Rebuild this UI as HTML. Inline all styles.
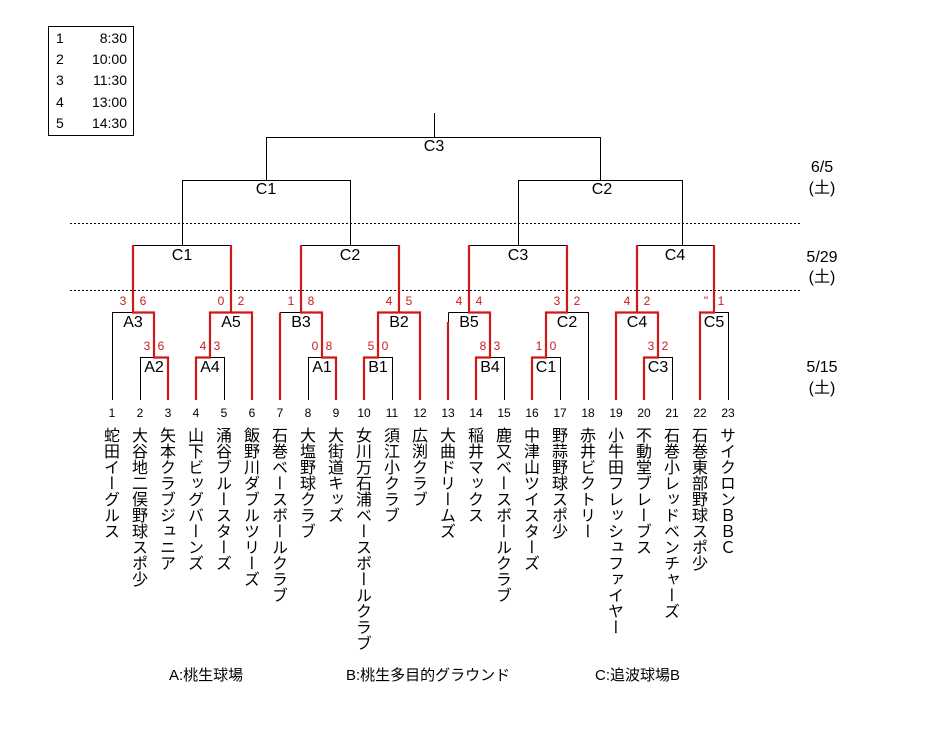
<!DOCTYPE html>
<html><head><meta charset="utf-8">
<style>
body{margin:0;background:#fff;}
#c{position:relative;width:947px;height:735px;overflow:hidden;background:#fff;font-family:"Liberation Sans","Noto Sans CJK JP",sans-serif;}
.t{position:absolute;font-size:16px;line-height:16px;color:#000;white-space:nowrap;transform:translateX(-50%);}
.s{position:absolute;font-size:12px;line-height:14px;color:#c81e1e;transform:translateX(-50%);}
.n{position:absolute;font-size:12px;line-height:14px;transform:translateX(-50%);top:406px;}
.v{position:absolute;top:427px;font-size:16px;line-height:16px;writing-mode:vertical-rl;transform:translateX(-50%);font-family:"Noto Sans CJK JP",sans-serif;}
.b{position:absolute;top:668px;font-size:15px;line-height:16px;}
</style></head><body><div id="c">
<svg width="947" height="735" style="position:absolute;left:0;top:0">
<rect x="48.5" y="26.5" width="85" height="109" fill="none" stroke="#000"/>
<g stroke="#000" stroke-dasharray="2,2"><line x1="70" y1="223.5" x2="800" y2="223.5"/><line x1="70" y1="290.5" x2="800" y2="290.5"/></g>
<g stroke="#000" fill="none" stroke-width="1">
<path d="M434.5 113V137.5M266.5 180V137.5H600.5V180M182.5 245V180.5H350.5V245M518.5 245V180.5H682.5V245"/>
<path d="M133.5 245.5H231.5M301.5 245.5H399.5M469.5 245.5H567.5M637.5 245.5H714.5"/>
<path d="M112.5 400V312.5H133M140.5 400V357.5H154"/>
<path d="M210 357.5H224.5V400"/>
<path d="M308.5 400V357.5H322M280 312.5H301"/>
<path d="M378 357.5H392.5V400"/>
<path d="M490 357.5H504.5V400M448.5 312.5H469M448.5 312.5V322"/>
<path d="M546 357.5H560.5V400M567 312.5H588.5V400"/>
<path d="M658 357.5H672.5V400"/>
<path d="M714 312.5H728.5V400"/>
</g>
<g stroke="#d01818" fill="none" stroke-width="2.2">
<path d="M168 400V357.5H154V312.5H133V245"/>
<path d="M196 400V357.5H210V312.5H252V400M231 312.5V245"/>
<path d="M336 400V357.5H322V312.5H301V245M280 400V312.5"/>
<path d="M364 400V357.5H378V312.5H420V400M399 312.5V245"/>
<path d="M476 400V357.5H490V312.5H469V245M448 400V322"/>
<path d="M532 400V357.5H546V312.5H567V245"/>
<path d="M644 400V357.5H658V312.5H616V400M637 312.5V245"/>
<path d="M700 400V312.5H714V245"/>
</g>
</svg>
<div style="position:absolute;left:56px;top:28px;font-size:14px;line-height:21.2px;">1<br>2<br>3<br>4<br>5</div>
<div style="position:absolute;left:127px;top:28px;font-size:14px;line-height:21.2px;text-align:right;transform:translateX(-100%);">8:30<br>10:00<br>11:30<br>13:00<br>14:30</div>

<div class="t" style="left:434px;top:139px">C3</div>
<div class="t" style="left:266px;top:182px">C1</div>
<div class="t" style="left:602px;top:182px">C2</div>
<div class="t" style="left:182px;top:248px">C1</div>
<div class="t" style="left:350px;top:248px">C2</div>
<div class="t" style="left:518px;top:248px">C3</div>
<div class="t" style="left:675px;top:248px">C4</div>
<div class="t" style="left:133px;top:315px">A3</div>
<div class="t" style="left:231px;top:315px">A5</div>
<div class="t" style="left:301px;top:315px">B3</div>
<div class="t" style="left:399px;top:315px">B2</div>
<div class="t" style="left:469px;top:315px">B5</div>
<div class="t" style="left:567px;top:315px">C2</div>
<div class="t" style="left:637px;top:315px">C4</div>
<div class="t" style="left:714px;top:315px">C5</div>
<div class="t" style="left:154px;top:360px">A2</div>
<div class="t" style="left:210px;top:360px">A4</div>
<div class="t" style="left:322px;top:360px">A1</div>
<div class="t" style="left:378px;top:360px">B1</div>
<div class="t" style="left:490px;top:360px">B4</div>
<div class="t" style="left:546px;top:360px">C1</div>
<div class="t" style="left:658px;top:360px">C3</div>

<div class="s" style="left:123px;top:294px">3</div><div class="s" style="left:143px;top:294px">6</div>
<div class="s" style="left:221px;top:294px">0</div><div class="s" style="left:241px;top:294px">2</div>
<div class="s" style="left:291px;top:294px">1</div><div class="s" style="left:311px;top:294px">8</div>
<div class="s" style="left:389px;top:294px">4</div><div class="s" style="left:409px;top:294px">5</div>
<div class="s" style="left:459px;top:294px">4</div><div class="s" style="left:479px;top:294px">4</div>
<div class="s" style="left:557px;top:294px">3</div><div class="s" style="left:577px;top:294px">2</div>
<div class="s" style="left:627px;top:294px">4</div><div class="s" style="left:647px;top:294px">2</div>
<div class="s" style="left:706px;top:294px">"</div><div class="s" style="left:721px;top:294px">1</div>
<div class="s" style="left:147px;top:339px">3</div><div class="s" style="left:161px;top:339px">6</div>
<div class="s" style="left:203px;top:339px">4</div><div class="s" style="left:217px;top:339px">3</div>
<div class="s" style="left:315px;top:339px">0</div><div class="s" style="left:329px;top:339px">8</div>
<div class="s" style="left:371px;top:339px">5</div><div class="s" style="left:385px;top:339px">0</div>
<div class="s" style="left:483px;top:339px">8</div><div class="s" style="left:497px;top:339px">3</div>
<div class="s" style="left:539px;top:339px">1</div><div class="s" style="left:553px;top:339px">0</div>
<div class="s" style="left:651px;top:339px">3</div><div class="s" style="left:665px;top:339px">2</div>

<div class="t" style="left:822px;top:160px">6/5</div>
<div class="t" style="left:822px;top:181px">(土)</div>
<div class="t" style="left:822px;top:250px">5/29</div>
<div class="t" style="left:822px;top:270px">(土)</div>
<div class="t" style="left:822px;top:360px">5/15</div>
<div class="t" style="left:822px;top:381px">(土)</div>

<div class="n" style="left:112px">1</div><div class="n" style="left:140px">2</div><div class="n" style="left:168px">3</div><div class="n" style="left:196px">4</div><div class="n" style="left:224px">5</div><div class="n" style="left:252px">6</div><div class="n" style="left:280px">7</div><div class="n" style="left:308px">8</div><div class="n" style="left:336px">9</div><div class="n" style="left:364px">10</div><div class="n" style="left:392px">11</div><div class="n" style="left:420px">12</div><div class="n" style="left:448px">13</div><div class="n" style="left:476px">14</div><div class="n" style="left:504px">15</div><div class="n" style="left:532px">16</div><div class="n" style="left:560px">17</div><div class="n" style="left:588px">18</div><div class="n" style="left:616px">19</div><div class="n" style="left:644px">20</div><div class="n" style="left:672px">21</div><div class="n" style="left:700px">22</div><div class="n" style="left:728px">23</div>

<div class="v" style="left:112px">蛇田イーグルス</div>
<div class="v" style="left:140px">大谷地二俣野球スポ少</div>
<div class="v" style="left:168px">矢本クラブジュニア</div>
<div class="v" style="left:196px">山下ビッグバーンズ</div>
<div class="v" style="left:224px">涌谷ブルースターズ</div>
<div class="v" style="left:252px">飯野川ダブルツリーズ</div>
<div class="v" style="left:280px">石巻ベースボールクラブ</div>
<div class="v" style="left:308px">大塩野球クラブ</div>
<div class="v" style="left:336px">大街道キッズ</div>
<div class="v" style="left:364px">女川万石浦ベースボールクラブ</div>
<div class="v" style="left:392px">須江小クラブ</div>
<div class="v" style="left:420px">広渕クラブ</div>
<div class="v" style="left:448px">大曲ドリームズ</div>
<div class="v" style="left:476px">稲井マックス</div>
<div class="v" style="left:504px">鹿又ベースボールクラブ</div>
<div class="v" style="left:532px">中津山ツイスターズ</div>
<div class="v" style="left:560px">野蒜野球スポ少</div>
<div class="v" style="left:588px">赤井ビクトリー</div>
<div class="v" style="left:616px">小牛田フレッシュファイヤー</div>
<div class="v" style="left:644px">不動堂ブレーブス</div>
<div class="v" style="left:672px">石巻小レッドベンチャーズ</div>
<div class="v" style="left:700px">石巻東部野球スポ少</div>
<div class="v" style="left:728px">サイクロンＢＢＣ</div>

<div class="b" style="left:169px">A:桃生球場</div>
<div class="b" style="left:346px">B:桃生多目的グラウンド</div>
<div class="b" style="left:595px">C:追波球場B</div>
</div></body></html>
